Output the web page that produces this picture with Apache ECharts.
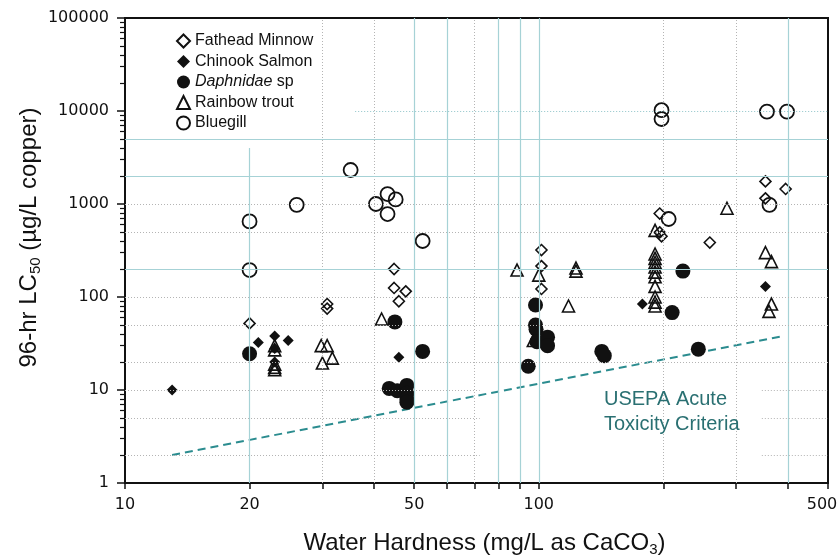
<!DOCTYPE html>
<html>
<head>
<meta charset="utf-8">
<script src="https://cdn.jsdelivr.net/npm/echarts@6/dist/echarts.min.js"></script>
<style>
  html, body { margin: 0; padding: 0; background: #fff; }
  #chart { width: 839px; height: 560px; }
</style>
</head>
<body>
<div id="chart"></div>
<script>
// [hardness, LC50] pairs
var fathead = [[20, 52], [30.8, 84], [30.8, 75], [44.7, 200], [44.7, 125], [47.7, 115], [45.9, 90],
  [101.5, 320], [101.5, 215], [101.5, 122], [196, 790], [196, 495], [198, 450], [259, 385],
  [353, 1750], [395, 1450], [353, 1150]];
var chinook = [[13, 10], [20, 23], [21, 32.5], [23, 38], [23, 28], [23, 20], [24.8, 34], [45.9, 22.5],
  [178, 84], [353, 130]];
var daphnidae = [[20, 24.5], [44.9, 54], [52.4, 26], [43.5, 10.4], [45.5, 9.8], [48, 11.2], [48, 9.2],
  [48, 8], [48, 7.4], [98.2, 82], [98.2, 50], [98.5, 45], [99, 33], [105, 37], [105, 30], [94.3, 18],
  [142, 26], [144, 23.4], [223, 190], [210, 68], [243, 27.5]];
var trout = [[23, 30], [23, 27], [23, 19], [23, 17.5], [23, 16.5], [29.8, 30], [30.8, 30], [30, 19.5],
  [31.7, 22], [41.7, 58], [88.6, 195], [100, 172], [97, 34], [123, 205], [123, 190], [118, 80],
  [191, 520], [191, 290], [191, 260], [191, 235], [191, 210], [191, 185], [191, 165], [191, 130],
  [191, 100], [191, 88], [191, 80], [285, 900], [353, 300], [365, 240], [365, 84], [360, 70]];
var bluegill = [[20, 650], [20, 195], [26, 980], [35.1, 2320], [40.4, 1000], [43.1, 1280], [45.1, 1120],
  [43.1, 780], [52.4, 400], [198, 10200], [198, 8200], [206, 690], [356, 9850], [398, 9850], [361, 980]];
var criteria = [[13, 2], [390, 38]];

// axis ticks and labels
var xTicks = [10, 20, 30, 40, 50, 60, 70, 80, 90, 100, 200, 300, 400, 500];
var xLabels = [10, 20, 50, 100, 500];
var yLabels = [1, 10, 100, 1000, 10000, 100000];
var yMinorSteps = [2, 3, 4, 5, 6, 7, 8, 9];

// background grid lines drawn on the plot
var tealX = [50, 60, 80, 90, 100, 400];
var dotX = [30, 40, 70, 200, 300];
var tealY = [200, 2000, 5000];
var dotY = [20, 50, 100, 500, 1000];
var dotYCut = [2, 5, 10];

var view = {};
var black = '#111';
var teal = '#a6d2d6';
var dotGrey = '#b4b4b4';

view.seg = function (x1, y1, x2, y2, style) {
  return [{ coord: [x1, y1], lineStyle: style }, { coord: [x2, y2] }];
};

view.gridLines = function () {
  var solid = { color: teal, width: 1.2, type: 'solid' };
  var dotted = { color: dotGrey, width: 1, type: [1, 2] };
  var dottedTeal = { color: '#8fc4c9', width: 1, type: [1, 2] };
  var out = [];
  tealX.forEach(function (x) { out.push(view.seg(x, 1, x, 100000, solid)); });
  out.push(view.seg(20, 1, 20, 4000, solid));
  dotX.forEach(function (x) { out.push(view.seg(x, 1, x, 100000, dotted)); });
  tealY.forEach(function (y) { out.push(view.seg(10, y, 500, y, solid)); });
  dotY.forEach(function (y) { out.push(view.seg(10, y, 500, y, dotted)); });
  dotYCut.forEach(function (y) {
    out.push(view.seg(10, y, 72, y, dotted));
    out.push(view.seg(346, y, 500, y, dotted));
  });
  out.push(view.seg(36, 10000, 500, 10000, dottedTeal));
  return out;
};

view.log = function (arr) {
  return arr.map(function (v) { return Math.log10(v); });
};

view.loadChart = function () {
  var chart = echarts.init(document.getElementById('chart'));
  var yMinor = [];
  for (var d = 0; d < 5; d++) {
    yMinorSteps.forEach(function (s) { yMinor.push(d + Math.log10(s)); });
  }
  var hollow = 'rgba(255,255,255,0)';
  var labelFont = { fontFamily: 'DejaVu Sans', fontSize: 16, color: black };
  var xMax = xLabels[xLabels.length - 1];

  var option = {
    animation: false,
    backgroundColor: '#fff',
    grid: {
      left: 125, right: 11, top: 18, bottom: 77,
      outerBoundsMode: 'none',
      show: true, borderColor: black, borderWidth: 2, backgroundColor: '#fff'
    },
    legend: {
      orient: 'vertical',
      left: 176,
      top: 33,
      padding: 0,
      itemWidth: 13,
      itemHeight: 13,
      itemGap: 4.5,
      data: ['Fathead Minnow', 'Chinook Salmon', 'Daphnidae sp', 'Rainbow trout', 'Bluegill'],
      formatter: function (name) {
        return name === 'Daphnidae sp' ? '{i|Daphnidae} sp' : name;
      },
      textStyle: {
        fontFamily: 'Liberation Sans', fontSize: 16, color: black,
        rich: { i: { fontFamily: 'Liberation Sans', fontSize: 16, fontStyle: 'italic', color: black } }
      }
    },
    xAxis: [
      {
        type: 'log', min: 10, max: 500,
        axisLine: { lineStyle: { color: black, width: 2 } },
        axisTick: { show: false },
        axisLabel: { show: false },
        splitLine: { show: false },
        name: 'Water Hardness (mg/L as CaCO{sub|3})',
        nameLocation: 'middle',
        nameGap: 46,
        nameTextStyle: {
          fontFamily: 'Liberation Sans', fontSize: 24, color: black, lineHeight: 28,
          padding: [0, 0, 0, 16],
          rich: { sub: { fontFamily: 'Liberation Sans', fontSize: 15, lineHeight: 15, verticalAlign: 'bottom', color: black } }
        }
      },
      {
        type: 'value', min: 1, max: Math.log10(500), position: 'bottom',
        axisLine: { show: false },
        axisTick: { show: true, length: 6, customValues: view.log(xTicks), lineStyle: { color: black, width: 1.5 } },
        axisLabel: {
          customValues: view.log(xLabels), margin: 14,
          formatter: function (v) {
            var n = Math.round(Math.pow(10, v));
            return n === xMax ? '{m|' + n + '}' : String(n);
          },
          fontFamily: labelFont.fontFamily, fontSize: labelFont.fontSize, color: black,
          rich: { m: { fontFamily: labelFont.fontFamily, fontSize: labelFont.fontSize, color: black, padding: [0, 12, 0, 0] } }
        },
        splitLine: { show: false }
      }
    ],
    yAxis: [
      {
        type: 'log', min: 1, max: 100000,
        axisLine: { lineStyle: { color: black, width: 2 } },
        axisTick: { show: false },
        axisLabel: { show: false },
        splitLine: { show: false },
        name: '96-hr LC{sub|50} (µg/L copper)',
        nameLocation: 'middle',
        nameGap: 82,
        nameTextStyle: {
          fontFamily: 'Liberation Sans', fontSize: 24, color: black, lineHeight: 28,
          padding: [0, 0, 0, 26],
          rich: { sub: { fontFamily: 'Liberation Sans', fontSize: 15, lineHeight: 15, verticalAlign: 'bottom', color: black } }
        }
      },
      {
        type: 'value', min: 0, max: 5, position: 'left',
        axisLine: { show: false },
        axisTick: { show: true, length: 8, customValues: view.log(yLabels), lineStyle: { color: black, width: 1.5 } },
        axisLabel: {
          customValues: view.log(yLabels), margin: 16,
          formatter: function (v) { return String(Math.round(Math.pow(10, v))); },
          fontFamily: labelFont.fontFamily, fontSize: labelFont.fontSize, color: black
        },
        splitLine: { show: false }
      },
      {
        type: 'value', min: 0, max: 5, position: 'left',
        axisLine: { show: false },
        axisTick: { show: true, length: 5, customValues: yMinor, lineStyle: { color: black, width: 1.2 } },
        axisLabel: { show: false },
        splitLine: { show: false }
      }
    ],
    graphic: [
      {
        type: 'text', left: 604, top: 387, z: 10,
        style: {
          text: 'USEPA Acute\nToxicity Criteria',
          fill: '#2a7072',
          font: '20px "Liberation Sans"',
          lineHeight: 25
        }
      }
    ],
    series: [
      {
        name: 'grid', type: 'line', data: [], z: 1, silent: true,
        markLine: { silent: true, symbol: ['none', 'none'], label: { show: false }, animation: false, data: view.gridLines() }
      },
      {
        name: 'USEPA', type: 'line', data: criteria, z: 2, symbol: 'none', silent: true,
        lineStyle: { color: '#2b8c8f', width: 2, type: [8, 5] }
      },
      {
        name: 'Bluegill', type: 'scatter', data: bluegill, z: 3, symbol: 'circle', symbolSize: 14,
        itemStyle: { color: hollow, borderColor: black, borderWidth: 1.8, opacity: 1 }
      },
      {
        name: 'Rainbow trout', type: 'scatter', data: trout, z: 3, symbol: 'triangle', symbolSize: 12,
        itemStyle: { color: hollow, borderColor: black, borderWidth: 1.6, opacity: 1 }
      },
      {
        name: 'Fathead Minnow', type: 'scatter', data: fathead, z: 3, symbol: 'diamond', symbolSize: 11,
        itemStyle: { color: hollow, borderColor: black, borderWidth: 1.6, opacity: 1 }
      },
      {
        name: 'Daphnidae sp', type: 'scatter', data: daphnidae, z: 3, symbol: 'circle', symbolSize: 15,
        itemStyle: { color: black, opacity: 1 }
      },
      {
        name: 'Chinook Salmon', type: 'scatter', data: chinook, z: 3, symbol: 'diamond', symbolSize: 11,
        itemStyle: { color: black, opacity: 1 }
      }
    ]
  };
  chart.setOption(option);
};

view.loadChart();
</script>
</body>
</html>
